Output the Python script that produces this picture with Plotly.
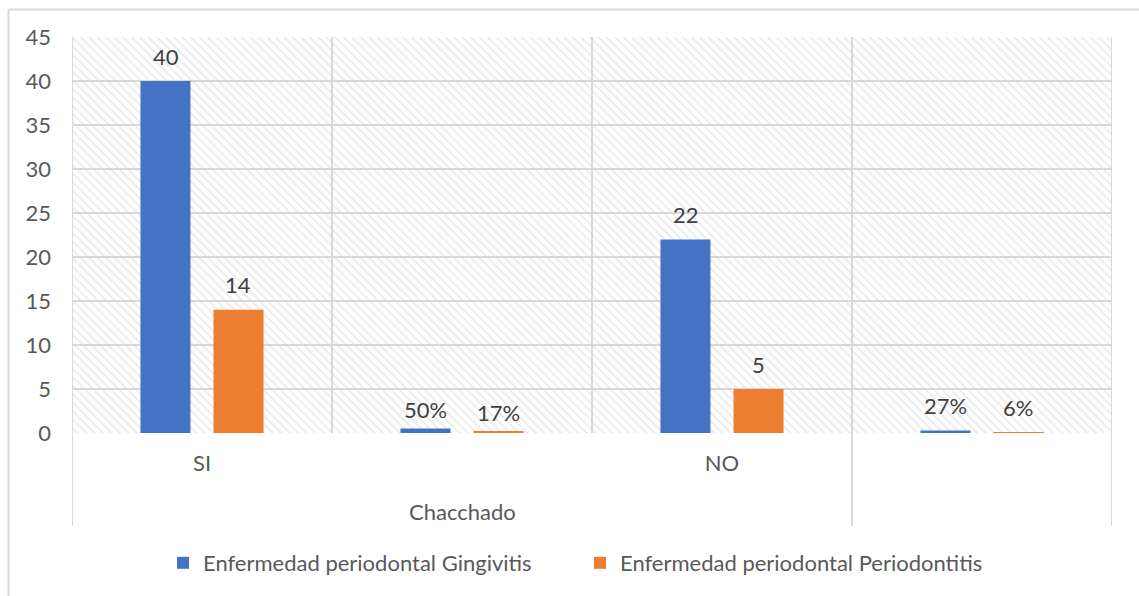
import plotly.graph_objects as go

# Categories along the axis (percent columns follow each group)
categories = ["SI", "SI %", "NO", "NO %"]
tick_labels = ["SI", "", "NO", ""]
group_label = "Chacchado"

gingivitis = [40, 0.50, 22, 0.27]
periodontitis = [14, 0.17, 5, 0.06]

series_names = ["Enfermedad periodontal Gingivitis", "Enfermedad periodontal Periodontitis"]
colors = ["#4472C4", "#ED7D31"]

W, H = 1139, 596
L, R, T, B = 72, 27, 37, 163
plot_w, plot_h = W - L - R, H - T - B

FONT = "Lato"
FS = 22
TXT = "#595959"
GRID = "#d9d9d9"

xpos = list(range(len(categories)))
x_lo, x_hi = -0.5, len(categories) - 0.5
y_max = 45


def fmt(v):
    return f"{v:.0%}" if v < 1 else f"{v:g}"


def px_to_paper_x(px):
    return (px - L) / plot_w


def px_to_paper_y(py):
    return (T + plot_h - py) / plot_h


fig = go.Figure()

# hatched plot background: one full-width band per category, drawn first so it sits under the bars
fig.add_trace(go.Bar(
    x=xpos, y=[y_max] * len(xpos), width=[1] * len(xpos), offset=-0.5,
    marker=dict(color="rgba(0,0,0,0)", line=dict(width=0),
                pattern=dict(shape="\\", fgcolor="#cfcfcf", bgcolor="rgba(0,0,0,0)",
                             size=6, solidity=0.25)),
    hoverinfo="skip", showlegend=False,
))

for name, vals, col in zip(series_names, [gingivitis, periodontitis], colors):
    fig.add_trace(go.Bar(
        x=xpos, y=vals, name=name, marker=dict(color=col, line=dict(width=0)),
    ))

# data labels above the bars
offsets = [-0.14, 0.14]
label_lift = {0: 25, 1: 19, 2: 25, 3: 25}
for off, vals in zip(offsets, [gingivitis, periodontitis]):
    for xi, v in zip(xpos, vals):
        fig.add_annotation(
            x=xi + off, y=v, xref="x", yref="y", text=fmt(v), showarrow=False,
            yanchor="middle", yshift=label_lift[xi],
            font=dict(family=FONT, size=FS, color="#404040"),
        )

# category separators; group boundaries reach down into the label area
for i in range(len(categories) + 1):
    xb = x_lo + i
    bottom = px_to_paper_y(526) if i in (0, 3, 4) else 0
    fig.add_shape(type="line", xref="x", yref="paper", x0=xb, x1=xb,
                  y0=bottom, y1=1, line=dict(color=GRID, width=2), layer="below")

# group label centred under its three columns
fig.add_annotation(
    x=1.0, y=px_to_paper_y(511), xref="x", yref="paper", text=group_label,
    showarrow=False, yanchor="middle",
    font=dict(family=FONT, size=FS, color=TXT),
)

# chart frame edges
fig.add_shape(type="line", xref="paper", yref="paper",
              x0=px_to_paper_x(8.5), x1=px_to_paper_x(W), y0=px_to_paper_y(9.5), y1=px_to_paper_y(9.5),
              line=dict(color=GRID, width=2))
fig.add_shape(type="line", xref="paper", yref="paper",
              x0=px_to_paper_x(8.5), x1=px_to_paper_x(8.5), y0=px_to_paper_y(9.5), y1=px_to_paper_y(H),
              line=dict(color=GRID, width=2))

fig.update_layout(
    width=W, height=H,
    margin=dict(l=L, r=R, t=T, b=B),
    paper_bgcolor="white", plot_bgcolor="white",
    barmode="group", bargap=0.438, bargroupgap=0.315,
    font=dict(family=FONT, size=FS, color=TXT),
    showlegend=True,
    legend=dict(orientation="h", x=px_to_paper_x(580), xanchor="center",
                y=px_to_paper_y(563), yanchor="middle",
                font=dict(family=FONT, size=FS, color=TXT),
                itemwidth=30, traceorder="normal",
                entrywidth=372, entrywidthmode="pixels"),
    xaxis=dict(range=[x_lo, x_hi], tickvals=xpos, ticktext=tick_labels,
               showgrid=False, zeroline=False, showline=False, ticks="",
               ticklabelstandoff=15, fixedrange=True),
    yaxis=dict(range=[0, y_max], dtick=5, showgrid=True, gridcolor=GRID, gridwidth=2,
               zeroline=False, showline=False, ticks="", ticklabelstandoff=20,
               fixedrange=True),
)

fig.write_html("out.html")
